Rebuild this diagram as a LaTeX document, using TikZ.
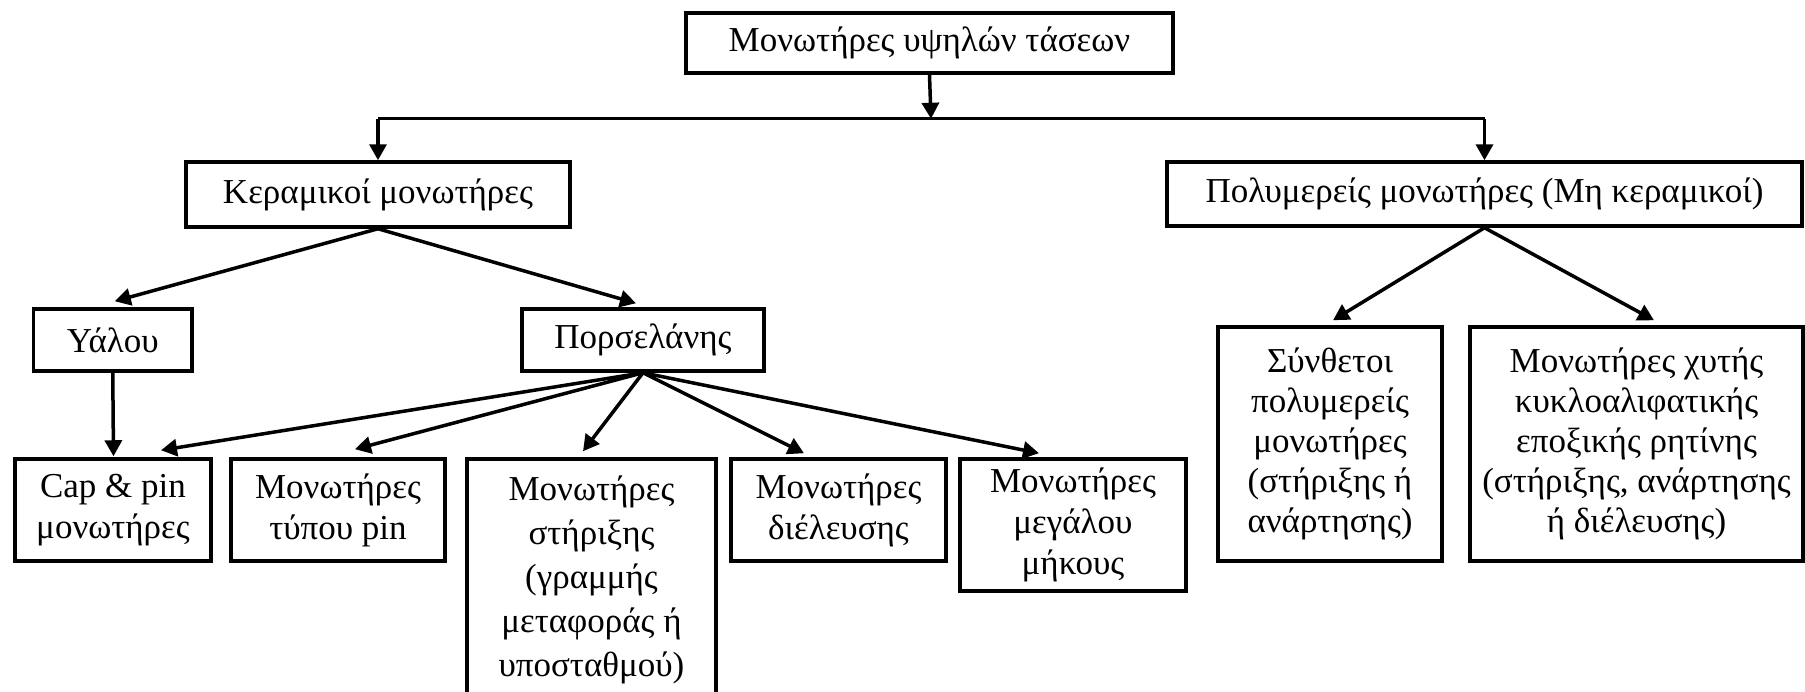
\documentclass[tikz,border=0pt]{standalone}
\usepackage{fontspec}
\setmainfont{Liberation Serif}
\usetikzlibrary{arrows.meta,calc}
\begin{document}
\begin{tikzpicture}[x=1pt,y=-1pt,
  box/.style={draw, line width=3.5pt, inner sep=0pt, align=center,
    font=\fontsize{35}{41}\selectfont},
  arr/.style={line width=3.5pt, -{Triangle[length=16pt,width=17pt]}},
  busline/.style={line width=3pt}]
\useasboundingbox (0,0) rectangle (1805,691);
% nodes
\node[box, minimum width=487pt, minimum height=60pt] (top) at (929.5,43) {Μονωτήρες υψηλών τάσεων};
\node[box, minimum width=384pt, minimum height=65pt] (ker) at (378,194.5) {Κεραμικοί μονωτήρες};
\node[box, minimum width=635pt, minimum height=64pt] (pol) at (1484.5,194) {Πολυμερείς μονωτήρες (Μη κεραμικοί)};
\node[box, minimum width=158.5pt, minimum height=62pt] (yal) at (112.75,340) {Υάλου};
\node[box, minimum width=242pt, minimum height=62pt] (por) at (643,340) {Πορσελάνης};
\node[box, minimum width=196pt, minimum height=102pt] (cap) at (113,510) {Cap \& pin\\μονωτήρες};
\node[box, minimum width=214pt, minimum height=102pt] (pin) at (338,510) {Μονωτήρες\\τύπου pin};
\node[box, minimum width=249pt, minimum height=242pt, font=\fontsize{35}{44}\selectfont] (sti) at (591.5,580) {Μονωτήρες\\στήριξης\\(γραμμής\\μεταφοράς ή\\υποσταθμού)};
\node[box, minimum width=215pt, minimum height=102pt] (die) at (838.5,510) {Μονωτήρες\\διέλευσης};
\node[box, minimum width=226pt, minimum height=132pt] (meg) at (1073,525) {Μονωτήρες\\μεγάλου\\μήκους};
\node[box, minimum width=224pt, minimum height=234pt, font=\fontsize{35}{40}\selectfont] (syn) at (1330,444) {Σύνθετοι\\πολυμερείς\\μονωτήρες\\(στήριξης ή\\ανάρτησης)};
\node[box, minimum width=333pt, minimum height=234pt, font=\fontsize{35}{40}\selectfont] (epo) at (1636.5,444) {Μονωτήρες χυτής\\κυκλοαλιφατικής\\εποξικής ρητίνης\\(στήριξης, ανάρτησης\\ή διέλευσης)};
% bus
\coordinate (bus) at ($(top.south)+(1.5,44)$);
\coordinate (busL) at (ker.north |- bus);
\coordinate (busR) at (pol.north |- bus);
\draw[arr] (top.south) -- (bus);
\draw[busline] (busL) -- (busR);
\draw[arr] (busL) -- (ker.north);
\draw[arr] (busR) -- (pol.north);
% ceramic
\draw[arr] (ker.south) -- ($(yal.north)+(2,-6)$);
\draw[arr] (ker.south) -- ($(por.north)+(-7,-4)$);
\draw[arr] (yal.south) -- ($(cap.north)+(0.5,-1)$);
\draw[arr] (por.south) -- ($(cap.north)+(48,-7)$);
\draw[arr] (por.south) -- ($(pin.north)+(17,-8)$);
\draw[arr] (por.south) -- ($(sti.north)+(-8.5,-6)$);
\draw[arr] (por.south) -- ($(die.north)+(-34.5,-4)$);
\draw[arr] (por.south) -- ($(meg.north)+(-34,-4)$);
% polymer
\draw[arr] (pol.south) -- ($(syn.north)+(3,-5)$);
\draw[arr] (pol.south) -- ($(epo.north)+(17.5,-5)$);
\end{tikzpicture}
\end{document}
